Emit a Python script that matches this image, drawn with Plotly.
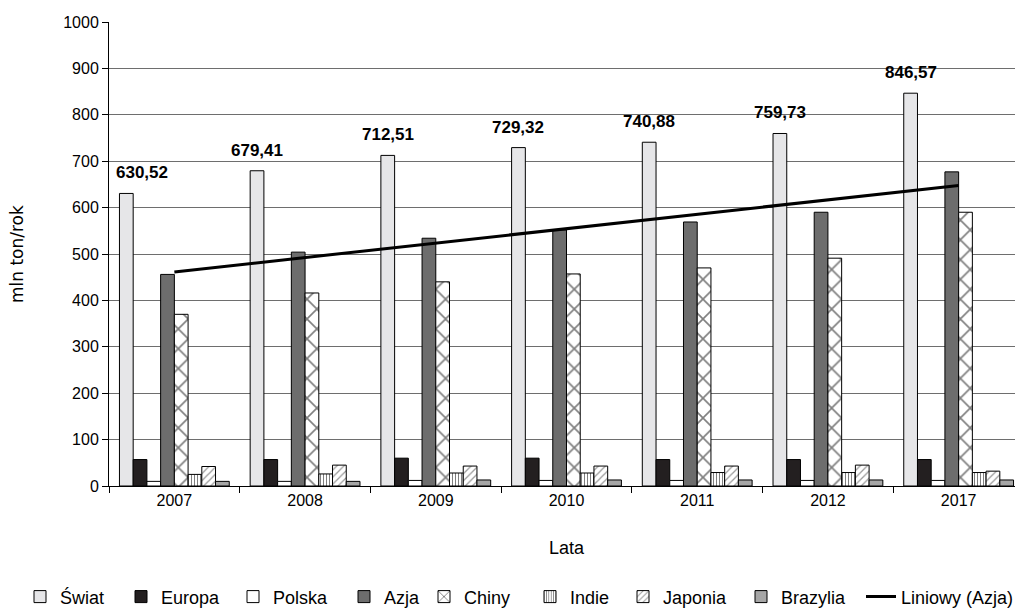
import numpy as np
import plotly.graph_objects as go

years = ["2007", "2008", "2009", "2010", "2011", "2012", "2017"]
swiat = [630.52, 679.41, 712.51, 729.32, 740.88, 759.73, 846.57]
europa = [57, 57, 60, 60, 57, 57, 57]
polska = [10, 10, 12, 12, 12, 12, 12]
azja = [456, 504, 534, 552, 569, 590, 677]
chiny = [370, 416, 440, 457, 470, 491, 590]
indie = [25, 26, 28, 28, 29, 29, 29]
japonia = [42, 45, 43, 43, 43, 45, 32]
brazylia = [10, 10, 13, 13, 13, 13, 13]
swiat_labels = ["630,52", "679,41", "712,51", "729,32", "740,88", "759,73", "846,57"]

FONT = "Liberation Sans, Arial, sans-serif"
PLOT_L = 101
PLOT_W = 915
# page x where each legend entry's text begins
legend_text_x = [62, 163, 275, 386, 466, 572, 665, 783, 903]

fig = go.Figure()
legend_names = ["legend"] + [f"legend{k}" for k in range(2, 10)]

def bar(idx, name, vals, color, pattern=None, **kw):
    marker = dict(color=color, line=dict(color="black", width=1))
    if pattern:
        marker["pattern"] = pattern
    fig.add_trace(go.Bar(name=name, x=years, y=vals, marker=marker,
                         legend=legend_names[idx], **kw))

bar(0, "Świat", swiat, "#e6e6e8")
bar(1, "Europa", europa, "#231f20")
bar(2, "Polska", polska, "#ffffff")
bar(3, "Azja", azja, "#6d6d6d")
bar(4, "Chiny", chiny, "#ffffff", dict(shape="x", fgcolor="black", bgcolor="white", size=14, solidity=0.22))
bar(5, "Indie", indie, "#ffffff", dict(shape="|", fgcolor="black", bgcolor="white", size=3, solidity=0.35))
bar(6, "Japonia", japonia, "#ffffff", dict(shape="/", fgcolor="#333333", bgcolor="white", size=5, solidity=0.25))
bar(7, "Brazylia", brazylia, "#a6a6a6")

xi = np.arange(1, len(azja) + 1)
coef = np.polyfit(xi, azja, 1)
trend = np.polyval(coef, xi)
fig.add_trace(go.Scatter(name="Liniowy (Azja)", x=years, y=trend, mode="lines",
                         line=dict(color="black", width=3), legend=legend_names[8]))

# value labels above the Świat bars (first bar of each group)
bar_px = PLOT_W / len(years) * (1 - 0.16) / 8
for i, (v, t) in enumerate(zip(swiat, swiat_labels)):
    fig.add_annotation(x=i, y=v, text=f"<b>{t}</b>", showarrow=False,
                       xref="x", yref="y", yanchor="bottom",
                       xshift=-3.5 * bar_px + (16 if i == 0 else 0), yshift=9,
                       font=dict(family=FONT, size=17, color="black"))

fig.add_annotation(text="Lata", x=0.5, y=-0.1336, xref="paper", yref="paper",
                   showarrow=False, yanchor="middle", font=dict(size=18))
fig.add_annotation(text="mln ton/rok", x=-0.1005, y=0.5, xref="paper", yref="paper",
                   showarrow=False, textangle=-90, xanchor="center",
                   font=dict(family="DejaVu Sans, sans-serif", size=17))

legends = {}
for name, tx in zip(legend_names, legend_text_x):
    legends[name] = dict(orientation="h", x=(tx - 8 - 42 - PLOT_L) / PLOT_W, xanchor="left",
                         y=-0.239, yanchor="middle", font=dict(size=18),
                         bgcolor="rgba(0,0,0,0)", itemwidth=30)

fig.update_layout(
    width=1023, height=608,
    margin=dict(l=PLOT_L, r=1023 - PLOT_L - PLOT_W, t=14, b=130, autoexpand=False),
    paper_bgcolor="white", plot_bgcolor="white",
    barmode="group", bargap=0.16, bargroupgap=0,
    font=dict(family=FONT, size=16, color="black"),
    showlegend=True,
    **legends,
)
fig.update_xaxes(
    type="category", tickson="boundaries", ticks="outside", ticklen=6, tickcolor="black",
    showline=True, linecolor="black", linewidth=1, showgrid=False,
    tickfont=dict(size=16), automargin=False, tickangle=0,
)
fig.update_yaxes(
    range=[0, 1000], dtick=100, ticks="outside", ticklen=6, tickcolor="black",
    showline=True, linecolor="black", linewidth=1,
    showgrid=True, gridcolor="#6e6e6e", gridwidth=1.2,
    tickfont=dict(size=16), zeroline=False, automargin=False,
)

fig.write_html("out.html")
